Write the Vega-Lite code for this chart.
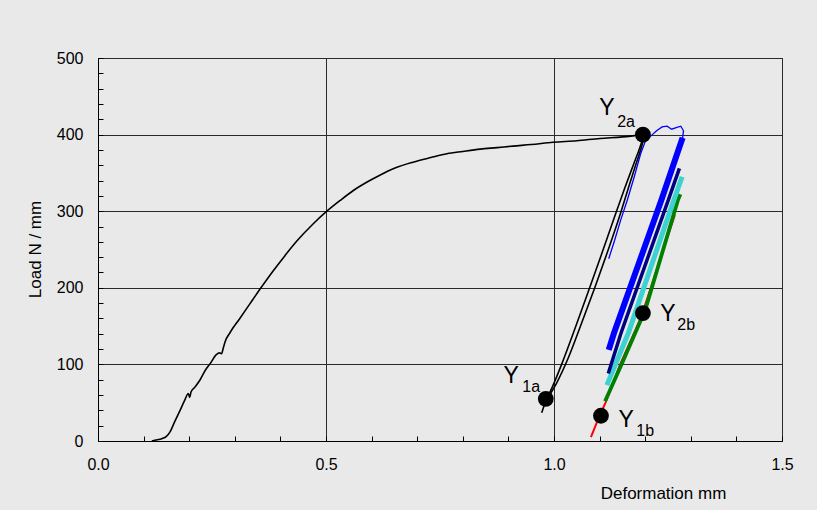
{
  "$schema": "https://vega.github.io/schema/vega-lite/v6.json",
  "width": 684,
  "height": 383,
  "autosize": {"type": "none"},
  "padding": {"left": 98, "top": 58, "right": 35, "bottom": 69},
  "background": "#e9e9e9",
  "config": {
    "view": {"stroke": "#000000", "strokeWidth": 1, "fill": "#e9e9e9"},
    "font": "Liberation Sans",
    "axis": {
      "labelFont": "Liberation Sans",
      "titleFont": "Liberation Sans",
      "labelColor": "#000000",
      "titleColor": "#000000",
      "labelFontSize": 16,
      "titleFontSize": 17,
      "titleFontWeight": "normal",
      "domainColor": "#000000",
      "tickColor": "#000000",
      "tickSize": -5,
      "gridColor": "#2a2a2a",
      "gridWidth": 1
    }
  },
  "datasets": {
    "curves": [
      {"series": "main", "i": 1, "x": 0.118, "y": 0},
      {"series": "main", "i": 2, "x": 0.125, "y": 1},
      {"series": "main", "i": 3, "x": 0.14, "y": 3},
      {"series": "main", "i": 4, "x": 0.15, "y": 6},
      {"series": "main", "i": 5, "x": 0.158, "y": 12},
      {"series": "main", "i": 6, "x": 0.168, "y": 25},
      {"series": "main", "i": 7, "x": 0.18, "y": 40},
      {"series": "main", "i": 8, "x": 0.19, "y": 53},
      {"series": "main", "i": 9, "x": 0.198, "y": 62},
      {"series": "main", "i": 10, "x": 0.201, "y": 57},
      {"series": "main", "i": 11, "x": 0.204, "y": 64},
      {"series": "main", "i": 12, "x": 0.212, "y": 70},
      {"series": "main", "i": 13, "x": 0.224, "y": 80},
      {"series": "main", "i": 14, "x": 0.235, "y": 92},
      {"series": "main", "i": 15, "x": 0.246, "y": 101},
      {"series": "main", "i": 16, "x": 0.26, "y": 113},
      {"series": "main", "i": 17, "x": 0.266, "y": 115},
      {"series": "main", "i": 18, "x": 0.271, "y": 114},
      {"series": "main", "i": 19, "x": 0.275, "y": 122},
      {"series": "main", "i": 20, "x": 0.279, "y": 130},
      {"series": "main", "i": 21, "x": 0.289, "y": 141},
      {"series": "main", "i": 22, "x": 0.311, "y": 160},
      {"series": "main", "i": 23, "x": 0.333, "y": 179},
      {"series": "main", "i": 24, "x": 0.355, "y": 198},
      {"series": "main", "i": 25, "x": 0.384, "y": 222},
      {"series": "main", "i": 26, "x": 0.41, "y": 242},
      {"series": "main", "i": 27, "x": 0.436, "y": 261},
      {"series": "main", "i": 28, "x": 0.471, "y": 283},
      {"series": "main", "i": 29, "x": 0.5, "y": 299},
      {"series": "main", "i": 30, "x": 0.531, "y": 314},
      {"series": "main", "i": 31, "x": 0.56, "y": 327},
      {"series": "main", "i": 32, "x": 0.596, "y": 340},
      {"series": "main", "i": 33, "x": 0.618, "y": 347},
      {"series": "main", "i": 34, "x": 0.65, "y": 356},
      {"series": "main", "i": 35, "x": 0.691, "y": 364},
      {"series": "main", "i": 36, "x": 0.73, "y": 370},
      {"series": "main", "i": 37, "x": 0.765, "y": 375},
      {"series": "main", "i": 38, "x": 0.8, "y": 378},
      {"series": "main", "i": 39, "x": 0.838, "y": 381},
      {"series": "main", "i": 40, "x": 0.875, "y": 383},
      {"series": "main", "i": 41, "x": 0.91, "y": 385},
      {"series": "main", "i": 42, "x": 0.95, "y": 387},
      {"series": "main", "i": 43, "x": 0.998, "y": 390},
      {"series": "main", "i": 44, "x": 1.05, "y": 392},
      {"series": "main", "i": 45, "x": 1.101, "y": 395},
      {"series": "main", "i": 46, "x": 1.15, "y": 397},
      {"series": "main", "i": 47, "x": 1.195, "y": 400},
      {"series": "unA", "i": 1, "x": 0.973, "y": 37},
      {"series": "unA", "i": 2, "x": 0.982, "y": 52},
      {"series": "unA", "i": 3, "x": 0.996, "y": 70},
      {"series": "unA", "i": 4, "x": 1.018, "y": 102},
      {"series": "unA", "i": 5, "x": 1.048, "y": 150},
      {"series": "unA", "i": 6, "x": 1.077, "y": 198},
      {"series": "unA", "i": 7, "x": 1.105, "y": 245},
      {"series": "unA", "i": 8, "x": 1.13, "y": 288},
      {"series": "unA", "i": 9, "x": 1.155, "y": 330},
      {"series": "unA", "i": 10, "x": 1.175, "y": 362},
      {"series": "unA", "i": 11, "x": 1.19, "y": 386},
      {"series": "unA", "i": 12, "x": 1.196, "y": 398},
      {"series": "unB", "i": 1, "x": 0.986, "y": 56},
      {"series": "unB", "i": 2, "x": 1.006, "y": 76},
      {"series": "unB", "i": 3, "x": 1.031, "y": 108},
      {"series": "unB", "i": 4, "x": 1.06, "y": 153},
      {"series": "unB", "i": 5, "x": 1.09, "y": 201},
      {"series": "unB", "i": 6, "x": 1.118, "y": 248},
      {"series": "unB", "i": 7, "x": 1.142, "y": 290},
      {"series": "unB", "i": 8, "x": 1.163, "y": 330},
      {"series": "unB", "i": 9, "x": 1.18, "y": 362},
      {"series": "unB", "i": 10, "x": 1.193, "y": 386},
      {"series": "unB", "i": 11, "x": 1.198, "y": 398},
      {"series": "red", "i": 1, "x": 1.081, "y": 5},
      {"series": "red", "i": 2, "x": 1.1, "y": 33},
      {"series": "red", "i": 3, "x": 1.113, "y": 50},
      {"series": "red", "i": 4, "x": 1.145, "y": 100},
      {"series": "red", "i": 5, "x": 1.19, "y": 160},
      {"series": "red", "i": 6, "x": 1.265, "y": 295},
      {"series": "green", "i": 1, "x": 1.112, "y": 52},
      {"series": "green", "i": 2, "x": 1.148, "y": 100},
      {"series": "green", "i": 3, "x": 1.2, "y": 171},
      {"series": "green", "i": 4, "x": 1.272, "y": 315},
      {"series": "green", "i": 5, "x": 1.277, "y": 322},
      {"series": "cyan", "i": 1, "x": 1.116, "y": 73},
      {"series": "cyan", "i": 2, "x": 1.163, "y": 141},
      {"series": "cyan", "i": 3, "x": 1.263, "y": 315},
      {"series": "cyan", "i": 4, "x": 1.281, "y": 345},
      {"series": "navy", "i": 1, "x": 1.119, "y": 88},
      {"series": "navy", "i": 2, "x": 1.147, "y": 141},
      {"series": "navy", "i": 3, "x": 1.251, "y": 315},
      {"series": "navy", "i": 4, "x": 1.275, "y": 356},
      {"series": "blueThick", "i": 1, "x": 1.12, "y": 119},
      {"series": "blueThick", "i": 2, "x": 1.1316, "y": 141},
      {"series": "blueThick", "i": 3, "x": 1.2357, "y": 315},
      {"series": "blueThick", "i": 4, "x": 1.282, "y": 396},
      {"series": "blueThin", "i": 1, "x": 1.12, "y": 238},
      {"series": "blueThin", "i": 2, "x": 1.133, "y": 262},
      {"series": "blueThin", "i": 3, "x": 1.146, "y": 288},
      {"series": "blueThin", "i": 4, "x": 1.161, "y": 315},
      {"series": "blueThin", "i": 5, "x": 1.176, "y": 345},
      {"series": "blueThin", "i": 6, "x": 1.19, "y": 375},
      {"series": "blueThin", "i": 7, "x": 1.2, "y": 391},
      {"series": "blueThin", "i": 8, "x": 1.212, "y": 398},
      {"series": "blueThin", "i": 9, "x": 1.225, "y": 405},
      {"series": "blueThin", "i": 10, "x": 1.237, "y": 410},
      {"series": "blueThin", "i": 11, "x": 1.248, "y": 411},
      {"series": "blueThin", "i": 12, "x": 1.258, "y": 407},
      {"series": "blueThin", "i": 13, "x": 1.268, "y": 409},
      {"series": "blueThin", "i": 14, "x": 1.278, "y": 411},
      {"series": "blueThin", "i": 15, "x": 1.284, "y": 405},
      {"series": "blueThin", "i": 16, "x": 1.282, "y": 395}
    ],
    "points": [
      {"name": "Y2a", "x": 1.195, "y": 400},
      {"name": "Y2b", "x": 1.195, "y": 167},
      {"name": "Y1a", "x": 0.982, "y": 55},
      {"name": "Y1b", "x": 1.103, "y": 33}
    ],
    "labels": [
      {"kind": "main", "text": "Y", "x": 1.116, "y": 434.7},
      {"kind": "sub", "text": "2a", "x": 1.158, "y": 416.4},
      {"kind": "main", "text": "Y", "x": 1.25, "y": 165.8},
      {"kind": "sub", "text": "2b", "x": 1.29, "y": 151.4},
      {"kind": "main", "text": "Y", "x": 1.158, "y": 27.4},
      {"kind": "sub", "text": "1b", "x": 1.2, "y": 13},
      {"kind": "main", "text": "Y", "x": 0.906, "y": 84.9},
      {"kind": "sub", "text": "1a", "x": 0.95, "y": 70.5}
    ]
  },
  "encoding": {
    "x": {
      "field": "x",
      "type": "quantitative",
      "scale": {"domain": [0, 1.5], "nice": false, "zero": false},
      "axis": {
        "title": "Deformation mm",
        "values": [0, 0.1, 0.2, 0.3, 0.4, 0.5, 0.6, 0.7, 0.8, 0.9, 1, 1.1, 1.2, 1.3, 1.4, 1.5],
        "labelExpr": "abs(datum.value*2-round(datum.value*2))<0.001 ? format(datum.value,'.1f') : ''",
        "gridOpacity": {"condition": {"test": "abs(datum.value*2-round(datum.value*2))<0.001", "value": 1}, "value": 0},
        "labelPadding": 20,
        "labelFlush": false,
        "labelOverlap": false,
        "titleAlign": "center",
        "titleBaseline": "middle",
        "titleX": 565,
        "titleY": 52
      }
    },
    "y": {
      "field": "y",
      "type": "quantitative",
      "scale": {"domain": [0, 500], "nice": false},
      "axis": {
        "title": "Load N / mm",
        "values": [0, 20, 40, 60, 80, 100, 120, 140, 160, 180, 200, 220, 240, 260, 280, 300, 320, 340, 360, 380, 400, 420, 440, 460, 480, 500],
        "labelExpr": "datum.value % 100 == 0 ? format(datum.value,'d') : ''",
        "gridOpacity": {"condition": {"test": "datum.value % 100 == 0", "value": 1}, "value": 0},
        "labelPadding": 20,
        "labelFlush": false,
        "labelOverlap": false,
        "titleAngle": -90,
        "titleAlign": "center",
        "titleBaseline": "middle",
        "titleX": -63,
        "titleY": 191
      }
    }
  },
  "layer": [
    {
      "data": {"name": "curves"},
      "transform": [{"filter": "datum.series == 'main' || datum.series == 'unA' || datum.series == 'unB'"}],
      "mark": {"type": "line", "color": "#000000", "strokeWidth": 1.6, "interpolate": "monotone"},
      "encoding": {"detail": {"field": "series"}, "order": {"field": "i", "type": "quantitative"}}
    },
    {
      "data": {"name": "curves"},
      "transform": [{"filter": "datum.series == 'red'"}],
      "mark": {"type": "line", "color": "#ff0000", "strokeWidth": 2},
      "encoding": {"order": {"field": "i", "type": "quantitative"}}
    },
    {
      "data": {"name": "curves"},
      "transform": [{"filter": "datum.series == 'green'"}],
      "mark": {"type": "line", "color": "#008000", "strokeWidth": 3.8},
      "encoding": {"order": {"field": "i", "type": "quantitative"}}
    },
    {
      "data": {"name": "curves"},
      "transform": [{"filter": "datum.series == 'cyan'"}],
      "mark": {"type": "line", "color": "#3cd2d2", "strokeWidth": 5},
      "encoding": {"order": {"field": "i", "type": "quantitative"}}
    },
    {
      "data": {"name": "curves"},
      "transform": [{"filter": "datum.series == 'navy'"}],
      "mark": {"type": "line", "color": "#000080", "strokeWidth": 3.5},
      "encoding": {"order": {"field": "i", "type": "quantitative"}}
    },
    {
      "data": {"name": "curves"},
      "transform": [{"filter": "datum.series == 'blueThick'"}],
      "mark": {"type": "line", "color": "#0000ff", "strokeWidth": 6},
      "encoding": {"order": {"field": "i", "type": "quantitative"}}
    },
    {
      "data": {"name": "curves"},
      "transform": [{"filter": "datum.series == 'blueThin'"}],
      "mark": {"type": "line", "color": "#0000ff", "strokeWidth": 1.3},
      "encoding": {"order": {"field": "i", "type": "quantitative"}}
    },
    {
      "data": {"name": "points"},
      "mark": {"type": "point", "filled": true, "color": "#000000", "opacity": 1, "size": 250}
    },
    {
      "data": {"name": "labels"},
      "transform": [{"filter": "datum.kind == 'main'"}],
      "mark": {"type": "text", "font": "Liberation Sans", "fontSize": 23, "color": "#000000", "align": "center", "baseline": "middle"},
      "encoding": {"text": {"field": "text"}}
    },
    {
      "data": {"name": "labels"},
      "transform": [{"filter": "datum.kind == 'sub'"}],
      "mark": {"type": "text", "font": "Liberation Sans", "fontSize": 16, "color": "#000000", "align": "center", "baseline": "middle"},
      "encoding": {"text": {"field": "text"}}
    }
  ]
}
